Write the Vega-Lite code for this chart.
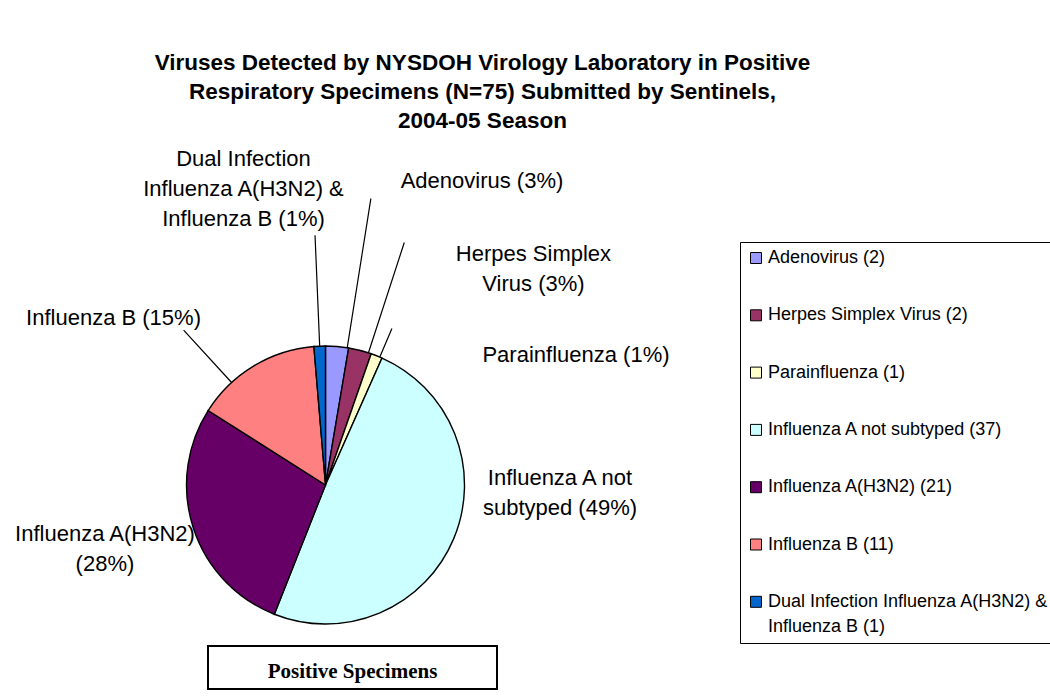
{
  "$schema": "https://vega.github.io/schema/vega-lite/v6.json",
  "background": "white",
  "padding": {"left": 14, "top": 52, "right": 0, "bottom": 0},
  "title": {
    "text": ["Viruses Detected by NYSDOH Virology Laboratory in Positive", "Respiratory Specimens (N=75) Submitted by Sentinels,", "2004-05 Season"],
    "font": "Liberation Sans", "fontSize": 22.5, "fontWeight": "bold", "color": "black",
    "anchor": "middle", "frame": "bounds", "lineHeight": 29, "offset": 15, "dx": -53
  },
  "config": {"view": {"stroke": null}},
  "datasets": {
    "viruses": [
      {"category": "Adenovirus", "count": 2, "order": 1, "label": "Adenovirus (3%)", "legend": "Adenovirus (2)"},
      {"category": "Herpes Simplex Virus", "count": 2, "order": 2, "label": "Herpes Simplex\nVirus (3%)", "legend": "Herpes Simplex Virus (2)"},
      {"category": "Parainfluenza", "count": 1, "order": 3, "label": "Parainfluenza (1%)", "legend": "Parainfluenza (1)"},
      {"category": "Influenza A not subtyped", "count": 37, "order": 4, "label": "Influenza A not\nsubtyped (49%)", "legend": "Influenza A not subtyped (37)"},
      {"category": "Influenza A(H3N2)", "count": 21, "order": 5, "label": "Influenza A(H3N2)\n(28%)", "legend": "Influenza A(H3N2) (21)"},
      {"category": "Influenza B", "count": 11, "order": 6, "label": "Influenza B (15%)", "legend": "Influenza B (11)"},
      {"category": "Dual Infection Influenza A(H3N2) & Influenza B", "count": 1, "order": 7, "label": "Dual Infection\nInfluenza A(H3N2) &\nInfluenza B (1%)", "legend": "Dual Infection Influenza A(H3N2) & Influenza B (1)"}
    ]
  },
  "spacing": 22,
  "bounds": "flush",
  "vconcat": [
    {
      "width": 235,
      "height": 278,
      "data": {"name": "viruses"},
      "transform": [
        {"window": [{"op": "sum", "field": "count", "as": "cum"}], "sort": [{"field": "order"}], "frame": [null, 0]}
      ],
      "layer": [
        {
          "mark": {"type": "arc", "outerRadius": 139, "stroke": "black", "strokeWidth": 1.4},
          "encoding": {
            "theta": {"field": "count", "type": "quantitative", "stack": true},
            "order": {"field": "order", "type": "quantitative"},
            "color": {
              "field": "legend", "type": "nominal",
              "scale": {
                "domain": ["Adenovirus (2)", "Herpes Simplex Virus (2)", "Parainfluenza (1)", "Influenza A not subtyped (37)", "Influenza A(H3N2) (21)", "Influenza B (11)", "Dual Infection Influenza A(H3N2) & Influenza B (1)"],
                "range": ["#9999FF", "#993366", "#FFFFCC", "#CCFFFF", "#660066", "#FF8080", "#0066CC"]
              },
              "legend": {
                "orient": "none", "legendX": 532, "legendY": -104, "title": null,
                "strokeColor": "black", "padding": 7,
                "symbolType": "square", "symbolSize": 121, "symbolStrokeColor": "black", "symbolStrokeWidth": 1,
                "labelFont": "Liberation Sans", "labelFontSize": 18, "labelColor": "black", "labelOffset": 3,
                "rowPadding": 39.3, "labelLimit": 400,
                "labelExpr": "datum.label === 'Dual Infection Influenza A(H3N2) & Influenza B (1)' ? ['Dual Infection Influenza A(H3N2) &', 'Influenza B (1)'] : datum.label",
                "encode": {"labels": {"update": {"lineHeight": {"value": 25}}}}
              }
            }
          }
        },
        {
          "transform": [{"filter": "datum.order === 1"}],
          "mark": {"type": "arc", "outerRadius": 290, "innerRadius": 139, "padAngle": 3, "thetaOffset": -0.020944, "fillOpacity": 0, "stroke": "black", "strokeWidth": 1.2},
          "encoding": {"theta": {"field": "cum", "type": "quantitative", "stack": null}, "theta2": {"field": "cum"}}
        },
        {
          "transform": [{"filter": "datum.order === 2"}],
          "mark": {"type": "arc", "outerRadius": 255, "innerRadius": 139, "padAngle": 3, "thetaOffset": -0.041888, "fillOpacity": 0, "stroke": "black", "strokeWidth": 1.2},
          "encoding": {"theta": {"field": "cum", "type": "quantitative", "stack": null}, "theta2": {"field": "cum"}}
        },
        {
          "transform": [{"filter": "datum.order === 3"}],
          "mark": {"type": "arc", "outerRadius": 170, "innerRadius": 139, "padAngle": 3, "thetaOffset": -0.034907, "fillOpacity": 0, "stroke": "black", "strokeWidth": 1.2},
          "encoding": {"theta": {"field": "cum", "type": "quantitative", "stack": null}, "theta2": {"field": "cum"}}
        },
        {
          "transform": [{"filter": "datum.order === 6"}],
          "mark": {"type": "arc", "outerRadius": 210, "innerRadius": 139, "padAngle": 3, "thetaOffset": -1.315979, "fillOpacity": 0, "stroke": "black", "strokeWidth": 1.2},
          "encoding": {"theta": {"field": "cum", "type": "quantitative", "stack": null}, "theta2": {"field": "cum"}}
        },
        {
          "transform": [{"filter": "datum.order === 7"}],
          "mark": {"type": "arc", "outerRadius": 250, "innerRadius": 139, "padAngle": 3, "thetaOffset": -0.083776, "fillOpacity": 0, "stroke": "black", "strokeWidth": 1.2},
          "encoding": {"theta": {"field": "cum", "type": "quantitative", "stack": null}, "theta2": {"field": "cum"}}
        },
        {
          "transform": [{"filter": "datum.order === 1"}],
          "mark": {"type": "text", "radius": 341.9, "thetaOffset": 0.30788, "font": "Liberation Sans", "fontSize": 22, "lineHeight": 30, "lineBreak": "\n", "align": "center", "baseline": "middle", "color": "black"},
          "encoding": {"theta": {"field": "cum", "type": "quantitative", "stack": null}, "text": {"field": "label", "type": "nominal"}}
        },
        {
          "transform": [{"filter": "datum.order === 2"}],
          "mark": {"type": "text", "radius": 310.8, "thetaOffset": 0.39794, "font": "Liberation Sans", "fontSize": 22, "lineHeight": 30, "lineBreak": "\n", "align": "center", "baseline": "middle", "color": "black"},
          "encoding": {"theta": {"field": "cum", "type": "quantitative", "stack": null}, "text": {"field": "label", "type": "nominal"}}
        },
        {
          "transform": [{"filter": "datum.order === 3"}],
          "mark": {"type": "text", "radius": 282.2, "thetaOffset": 0.67317, "font": "Liberation Sans", "fontSize": 22, "lineHeight": 30, "lineBreak": "\n", "align": "center", "baseline": "middle", "color": "black"},
          "encoding": {"theta": {"field": "cum", "type": "quantitative", "stack": null}, "text": {"field": "label", "type": "nominal"}}
        },
        {
          "transform": [{"filter": "datum.order === 4"}],
          "mark": {"type": "text", "radius": 234.6, "thetaOffset": -1.9792, "font": "Liberation Sans", "fontSize": 22, "lineHeight": 30, "lineBreak": "\n", "align": "center", "baseline": "middle", "color": "black"},
          "encoding": {"theta": {"field": "cum", "type": "quantitative", "stack": null}, "text": {"field": "label", "type": "nominal"}}
        },
        {
          "transform": [{"filter": "datum.order === 5"}],
          "mark": {"type": "text", "radius": 225.9, "thetaOffset": -0.78365, "font": "Liberation Sans", "fontSize": 22, "lineHeight": 30, "lineBreak": "\n", "align": "center", "baseline": "middle", "color": "black"},
          "encoding": {"theta": {"field": "cum", "type": "quantitative", "stack": null}, "text": {"field": "label", "type": "nominal"}}
        },
        {
          "transform": [{"filter": "datum.order === 6"}],
          "mark": {"type": "text", "radius": 270.1, "thetaOffset": -0.81856, "font": "Liberation Sans", "fontSize": 22, "lineHeight": 30, "lineBreak": "\n", "align": "center", "baseline": "middle", "color": "black"},
          "encoding": {"theta": {"field": "cum", "type": "quantitative", "stack": null}, "text": {"field": "label", "type": "nominal"}}
        },
        {
          "transform": [{"filter": "datum.order === 7"}],
          "mark": {"type": "text", "radius": 336.2, "thetaOffset": -0.24644, "font": "Liberation Sans", "fontSize": 22, "lineHeight": 30, "lineBreak": "\n", "align": "center", "baseline": "middle", "color": "black"},
          "encoding": {"theta": {"field": "cum", "type": "quantitative", "stack": null}, "text": {"field": "label", "type": "nominal"}}
        }
      ]
    },
    {
      "width": 289,
      "height": 43,
      "view": {"stroke": "black", "strokeWidth": 2},
      "data": {"values": [{"caption": "Positive Specimens"}]},
      "mark": {"type": "text", "font": "Liberation Serif", "fontWeight": "bold", "fontSize": 21, "color": "black", "dy": 4},
      "encoding": {"text": {"field": "caption", "type": "nominal"}}
    }
  ]
}
